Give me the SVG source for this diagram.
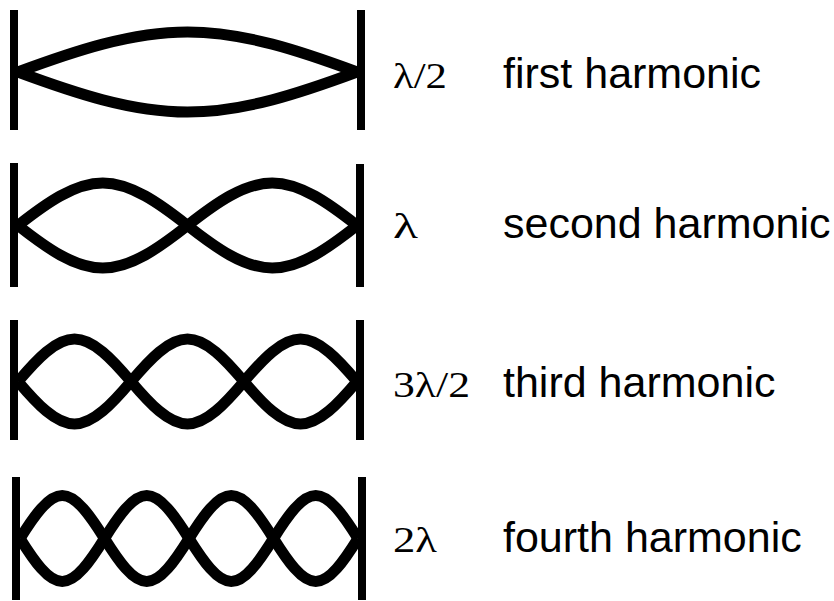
<svg xmlns="http://www.w3.org/2000/svg" width="834" height="601" viewBox="0 0 834 601">
<style>
.bar{stroke:#000;stroke-width:8;fill:none}
.wave{stroke:#000;stroke-width:11;fill:none;stroke-linejoin:round}
.lam{font-family:"Liberation Serif","Times New Roman",serif;font-size:35px;fill:#000}
.name{font-family:"Liberation Sans",Arial,sans-serif;font-size:43px;fill:#000}
</style>
<rect width="834" height="601" fill="#fff"/>
<g id="first">
<line class="bar" x1="14" y1="10" x2="14" y2="130"/>
<line class="bar" x1="361" y1="10" x2="361" y2="130"/>
<path class="wave" d="M18,72 C74.5,51.1 131,32 187.5,32 S300.5,51.1 357,72"/>
<path class="wave" d="M18,72 C74.5,92.9 131,112 187.5,112 S300.5,92.9 357,72"/>
<text class="lam" x="393" y="88" textLength="54" lengthAdjust="spacingAndGlyphs">λ/2</text>
<text class="name" x="503" y="88">first harmonic</text>
</g>
<g id="second">
<line class="bar" x1="14" y1="163" x2="14" y2="287"/>
<line class="bar" x1="360" y1="164" x2="360" y2="287"/>
<path class="wave" d="M18,225.5 C46.25,203.25 74.5,183 102.75,183 S159.25,203.25 187.5,225.5 S244,268 272.25,268 S328.75,247.75 357,225.5"/>
<path class="wave" d="M18,225.5 C46.25,247.75 74.5,268 102.75,268 S159.25,247.75 187.5,225.5 S244,183 272.25,183 S328.75,203.25 357,225.5"/>
<text class="lam" x="393" y="238" textLength="25" lengthAdjust="spacingAndGlyphs">λ</text>
<text class="name" x="503" y="238">second harmonic</text>
</g>
<g id="third">
<line class="bar" x1="14" y1="320" x2="14" y2="440"/>
<line class="bar" x1="360" y1="320" x2="360" y2="440"/>
<path class="wave" d="M18,381.5 C36.83,359.25 55.67,339 74.5,339 S112.17,359.25 131,381.5 S168.67,424 187.5,424 S225.17,403.75 244,381.5 S281.67,339 300.5,339 S338.17,359.25 357,381.5"/>
<path class="wave" d="M18,381.5 C36.83,403.75 55.67,424 74.5,424 S112.17,403.75 131,381.5 S168.67,339 187.5,339 S225.17,359.25 244,381.5 S281.67,424 300.5,424 S338.17,403.75 357,381.5"/>
<text class="lam" x="393" y="397" textLength="77" lengthAdjust="spacingAndGlyphs">3λ/2</text>
<text class="name" x="503" y="397">third harmonic</text>
</g>
<g id="fourth">
<line class="bar" x1="16" y1="477" x2="16" y2="600"/>
<line class="bar" x1="362" y1="477" x2="362" y2="600"/>
<path class="wave" d="M20,538.5 C34.08,516 48.17,495.5 62.25,495.5 S90.42,516 104.5,538.5 S132.670,581.5 146.75,581.5 S174.92,561 189,538.5 S217.17,495.5 231.25,495.5 S259.42,516 273.5,538.5 S301.67,581.5 315.75,581.5 S343.92,561 358,538.5"/>
<path class="wave" d="M20,538.5 C34.08,561 48.17,581.5 62.25,581.5 S90.42,561 104.5,538.5 S132.67,495.5 146.75,495.5 S174.92,516 189,538.5 S217.17,581.5 231.25,581.5 S259.42,561 273.5,538.5 S301.67,495.5 315.75,495.5 S343.92,516 358,538.5"/>
<text class="lam" x="393" y="552" textLength="44" lengthAdjust="spacingAndGlyphs">2λ</text>
<text class="name" x="503" y="552">fourth harmonic</text>
</g>
<g id="connectors"/>
</svg>
